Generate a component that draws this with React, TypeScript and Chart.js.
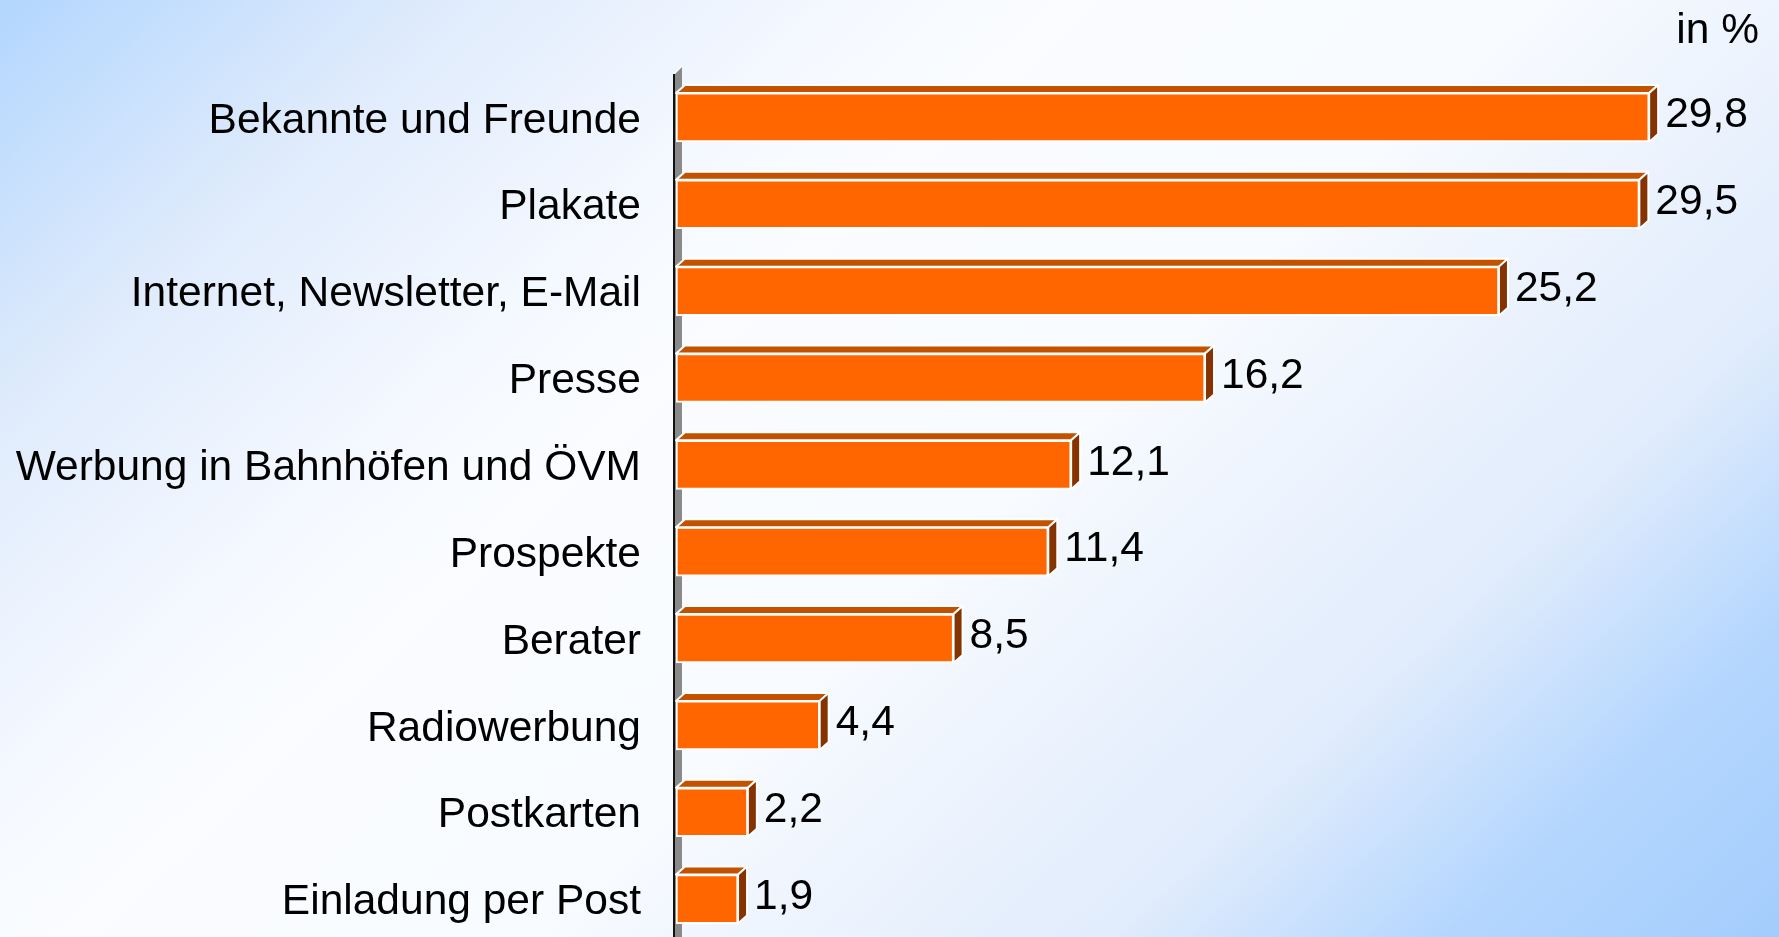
import React, { useEffect, useRef } from "react";
import { Chart, registerables } from "chart.js";

Chart.register(...registerables);

const categories = [
  "Bekannte und Freunde",
  "Plakate",
  "Internet, Newsletter, E-Mail",
  "Presse",
  "Werbung in Bahnhöfen und ÖVM",
  "Prospekte",
  "Berater",
  "Radiowerbung",
  "Postkarten",
  "Einladung per Post",
];
const values = [29.8, 29.5, 25.2, 16.2, 12.1, 11.4, 8.5, 4.4, 2.2, 1.9];
const valueLabels = ["29,8", "29,5", "25,2", "16,2", "12,1", "11,4", "8,5", "4,4", "2,2", "1,9"];
const unitLabel = "in %";

const FONT = "'Liberation Sans', Arial, sans-serif";
const FONT_SIZE = 42.5;
const W = 1779;
const H = 937;
const CH = 1003;
const DX = 9;
const DY = 8;

const threeD = {
  id: "threeD",
  beforeDatasetsDraw(chart: any) {
    const ctx = chart.ctx;
    const a = chart.chartArea;
    const x0 = a.left - 2;
    ctx.save();
    ctx.fillStyle = "#8a8a8a";
    ctx.beginPath();
    ctx.moveTo(x0, 74);
    ctx.lineTo(x0 + 8, 66);
    ctx.lineTo(x0 + 8, CH);
    ctx.lineTo(x0, CH);
    ctx.closePath();
    ctx.fill();
    ctx.strokeStyle = "#ffffff";
    ctx.lineWidth = 1.5;
    ctx.beginPath();
    ctx.moveTo(x0, 74);
    ctx.lineTo(x0 + 8, 66);
    ctx.stroke();
    ctx.strokeStyle = "#111111";
    ctx.lineWidth = 2;
    ctx.beginPath();
    ctx.moveTo(x0, 74);
    ctx.lineTo(x0, CH);
    ctx.stroke();
    ctx.restore();
  },
  afterDatasetsDraw(chart: any) {
    const ctx = chart.ctx;
    const meta = chart.getDatasetMeta(0);
    ctx.save();
    meta.data.forEach((bar: any, i: number) => {
      const left = bar.base;
      const right = bar.x;
      const top = bar.y - bar.height / 2;
      const bottom = bar.y + bar.height / 2;
      ctx.lineWidth = 2;
      ctx.strokeStyle = "#ffffff";
      ctx.lineJoin = "round";
      ctx.fillStyle = "#c25200";
      ctx.beginPath();
      ctx.moveTo(left, top);
      ctx.lineTo(left + DX, top - DY);
      ctx.lineTo(right + DX, top - DY);
      ctx.lineTo(right, top);
      ctx.closePath();
      ctx.fill();
      ctx.stroke();
      ctx.fillStyle = "#853300";
      ctx.beginPath();
      ctx.moveTo(right, top);
      ctx.lineTo(right + DX, top - DY);
      ctx.lineTo(right + DX, bottom - DY);
      ctx.lineTo(right, bottom);
      ctx.closePath();
      ctx.fill();
      ctx.stroke();
      ctx.fillStyle = "#000000";
      ctx.font = `${FONT_SIZE}px ${FONT}`;
      ctx.textAlign = "left";
      ctx.textBaseline = "middle";
      ctx.fillText(valueLabels[i], right + DX + 7, bar.y - 2);
    });
    ctx.font = `${FONT_SIZE}px ${FONT}`;
    ctx.textAlign = "right";
    ctx.textBaseline = "alphabetic";
    ctx.fillStyle = "#000000";
    ctx.fillText(unitLabel, 1759, 43);
    ctx.restore();
  },
};

export default function App() {
  const ref = useRef<HTMLCanvasElement>(null);
  useEffect(() => {
    document.body.style.margin = "0";
    const canvas = ref.current!;
    const chart = new Chart(canvas, {
      type: "bar",
      data: {
        labels: categories,
        datasets: [
          {
            data: values,
            backgroundColor: "#ff6600",
            borderColor: "#ffffff",
            borderWidth: 2,
            barThickness: 49,
            borderSkipped: false,
          },
        ],
      },
      options: {
        indexAxis: "y",
        animation: false,
        responsive: false,
        devicePixelRatio: 1,
        layout: { padding: { left: 0, right: 58, top: 74, bottom: 18 } },
        plugins: { legend: { display: false }, tooltip: { enabled: false } },
        scales: {
          x: { display: false, min: 0, max: 32 },
          y: {
            offset: true,
            grid: { display: false, drawTicks: false },
            border: { display: false },
            ticks: {
              color: "#000000",
              padding: 35,
              labelOffset: 3.5,
              font: { family: FONT, size: FONT_SIZE },
            },
            afterFit: (scale: any) => {
              scale.width = 676;
            },
          },
        },
      },
      plugins: [threeD],
    });
    return () => chart.destroy();
  }, []);
  return (
    <div
      style={{
        width: W,
        height: H,
        overflow: "hidden",
        position: "relative",
        background:
          "linear-gradient(137deg, #b2d6fe 0%, #dfebfc 16%, #f4f8ff 30%, #fafcff 38%, #f8fbff 55%, #e9f1fd 68%, #e1ecfc 76%, #b4d6fe 88%, #acd2fd 94%, #a4ccfc 100%)",
      }}
    >
      <canvas ref={ref} width={W} height={CH} style={{ display: "block", width: W, height: CH }} />
    </div>
  );
}
